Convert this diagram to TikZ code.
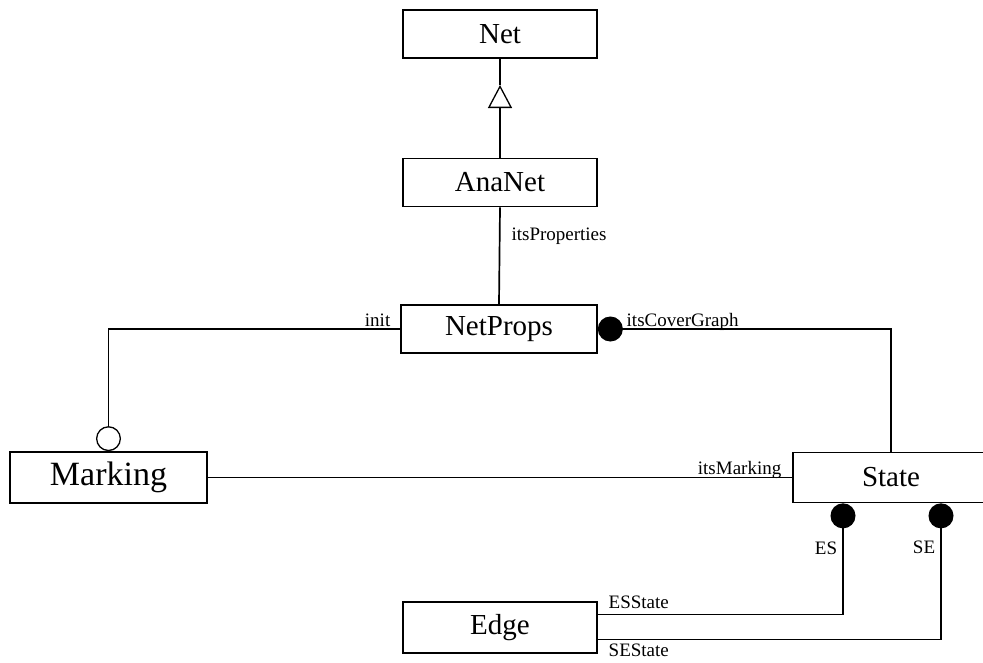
\documentclass[tikz,border=0pt]{standalone}
\usepackage{fontspec}
\setmainfont{Liberation Serif}
\usetikzlibrary{arrows.meta}

\begin{document}
\begin{tikzpicture}[x=1pt,y=-1pt,line width=1.7pt,
		klasse/.style={draw,rectangle,minimum width=194pt,minimum height=48pt,inner sep=0pt,font=\fontsize{29}{32}\selectfont},
		rolle/.style={font=\fontsize{19}{21}\selectfont,inner sep=1pt},
		erbt/.style={-{Triangle[open,length=23pt,width=24pt,line width=1.3pt]}},
		voll/.style={{Circle[length=25pt]}-},
		leer/.style={-{Circle[open,length=25pt,line width=1.3pt]}}]
			% Rahmen festlegen
			\useasboundingbox (0,0) rectangle (983,662);
			
			% Klassen zeichnen
			\node[klasse] (net) at (500,34) {Net};
			\node[klasse] (ananet) at (500,182.5) {AnaNet};
			\node[klasse,minimum width=196pt] (netprops) at (499,329) {NetProps};
			\node[klasse,minimum width=197pt,minimum height=51pt,font=\fontsize{34}{36}\selectfont] (marking) at (108.5,477.5) {Marking};
			\node[klasse,minimum width=196pt,minimum height=50pt] (state) at (891,477.5) {State};
			\node[klasse,minimum height=51pt] (edge) at (500,627.5) {Edge};
			
			% Vererbung
			\coordinate (spitze) at (500,85);
			\draw[erbt] (ananet.north) to (spitze);
			\draw (spitze) to (net.south);
			
			% Assoziationen zeichnen
			\draw (ananet.south) -- (netprops.north)
				node[rolle,pos=0.3,anchor=west,xshift=10pt] (l-props) {itsProperties};
			\draw[leer] (netprops.west) -| (marking.north)
				node[rolle,pos=0,anchor=base east,xshift=-8pt,yshift=3pt] (l-init) {init};
			\draw[voll] (netprops.east) -| (state.north)
				node[rolle,pos=0,anchor=base west,xshift=27pt,yshift=3pt] (l-cover) {itsCoverGraph};
			\draw (marking.east) -- (state.west)
				node[rolle,pos=1,anchor=base east,xshift=-9pt,yshift=3pt] (l-marking) {itsMarking};
			
			% Kanten zwischen State und Edge
			\draw[voll] ([xshift=-48pt]state.south) |- ([yshift=13pt]edge.east)
				node[rolle,pos=0.2,anchor=east,xshift=-4pt] (l-es) {ES}
				node[rolle,pos=1,anchor=base west,xshift=9pt,yshift=6pt] (l-esstate) {ESState};
			\draw[voll] ([xshift=50pt]state.south) |- ([yshift=-12pt]edge.east)
				node[rolle,pos=0.16,anchor=east,xshift=-4pt] (l-se) {SE}
				node[rolle,pos=1,anchor=north west,xshift=9pt,yshift=-3pt] (l-sestate) {SEState};
	\end{tikzpicture}
\end{document}
